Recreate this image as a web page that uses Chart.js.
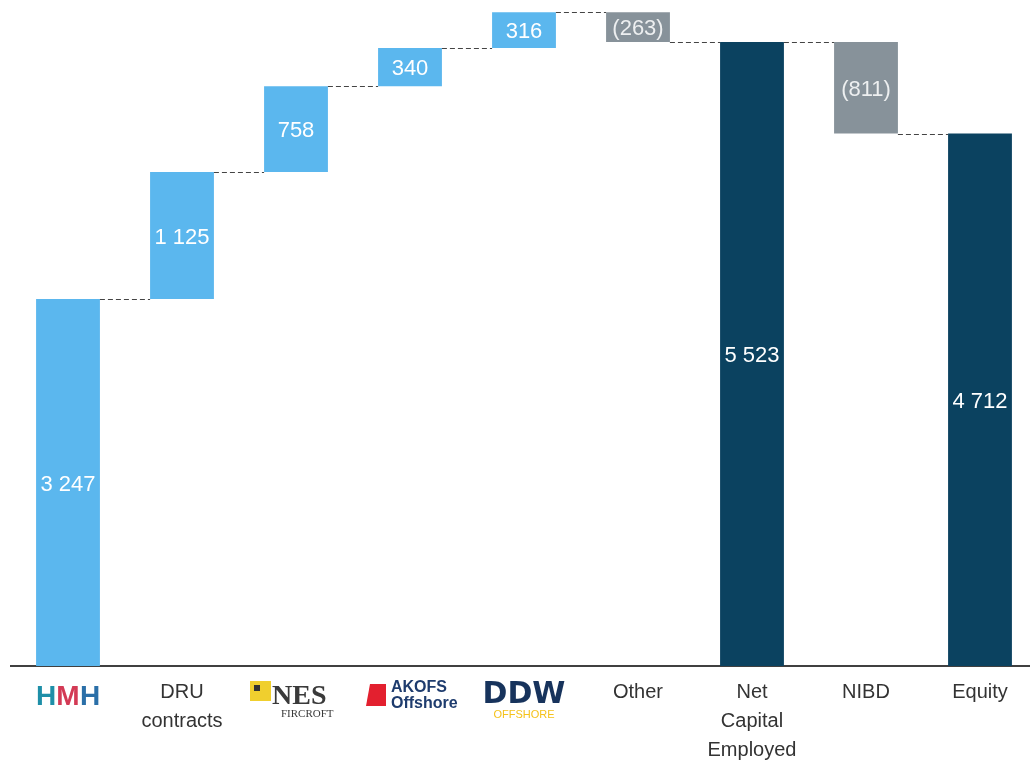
<!DOCTYPE html>
<html>
<head>
<meta charset="utf-8">
<script src="https://cdn.jsdelivr.net/npm/chart.js@4"></script>
<style>
  html, body { margin: 0; padding: 0; background: #fff; overflow: hidden; }
  #wrap { width: 1037px; height: 761px; }
</style>
</head>
<body>
<div id="wrap"><canvas id="bar"></canvas></div>
<script>
// data
const categories = ['HMH', ['DRU', 'contracts'], 'NES Fircroft', 'AKOFS Offshore', 'DDW Offshore', 'Other', ['Net', 'Capital', 'Employed'], 'NIBD', 'Equity'];
const changes = [3247, 1125, 758, 340, 316, -263, 5523, -811, 4712];
const kinds = ['start', 'up', 'up', 'up', 'up', 'down', 'total', 'down', 'total'];
const logoIdx = [0, 2, 3, 4];

const colors = { start: '#5BB7EE', up: '#5BB7EE', down: '#87929A', total: '#0B4260' };

// floating bars from running total
const ranges = [];
let run = 0;
changes.forEach((v, i) => {
  if (kinds[i] === 'total' || kinds[i] === 'start') { ranges.push([0, v]); run = v; }
  else { ranges.push([run, run + v]); run += v; }
});

const fmt = v => {
  const s = Math.abs(v).toString().replace(/\B(?=(\d{3})+(?!\d))/g, ' ');
  return v < 0 ? '(' + s + ')' : s;
};

// dashed connectors + value labels + logos
const extras = {
  id: 'extras',
  afterDatasetsDraw(chart) {
    const ctx = chart.ctx;
    const meta = chart.getDatasetMeta(0);
    const y = chart.scales.y;
    ctx.save();
    // connectors at the running total
    ctx.strokeStyle = '#444';
    ctx.lineWidth = 1;
    ctx.setLineDash([5, 3]);
    for (let i = 0; i < meta.data.length - 1; i++) {
      const a = meta.data[i], b = meta.data[i + 1];
      const lv = ranges[i][1];
      const py = Math.round(y.getPixelForValue(lv)) + 0.5;
      ctx.beginPath();
      ctx.moveTo(a.x + a.width / 2, py);
      ctx.lineTo(b.x - b.width / 2, py);
      ctx.stroke();
    }
    ctx.setLineDash([]);
    // value labels
    ctx.font = '22px "Liberation Sans", Arial, sans-serif';
    ctx.textAlign = 'center';
    ctx.textBaseline = 'middle';
    meta.data.forEach((bar, i) => {
      const mid = y.getPixelForValue((ranges[i][0] + ranges[i][1]) / 2);
      ctx.fillStyle = kinds[i] === 'down' ? '#EDEFF0' : '#FFFFFF';
      ctx.fillText(fmt(changes[i]), bar.x, mid + 2);
    });
    ctx.restore();
  },
  afterDraw(chart) {
    const ctx = chart.ctx;
    const x = chart.scales.x;
    const top = chart.chartArea.bottom;
    ctx.save();
    ctx.textBaseline = 'alphabetic';
    // HMH
    let cx = x.getPixelForValue(0);
    ctx.font = 'bold 28px "Liberation Sans", Arial, sans-serif';
    ctx.textAlign = 'center';
    ctx.fillStyle = '#1E8FA8';
    ctx.fillText('H', cx - 22, top + 39);
    ctx.fillStyle = '#D33A55';
    ctx.fillText('M', cx, top + 39);
    ctx.fillStyle = '#2A6FA8';
    ctx.fillText('H', cx + 22, top + 39);
    // NES Fircroft
    cx = x.getPixelForValue(2);
    ctx.fillStyle = '#F0CF2E';
    ctx.fillRect(cx - 46, top + 15, 21, 20);
    ctx.fillStyle = '#333';
    ctx.fillRect(cx - 42, top + 19, 6, 6);
    ctx.fillStyle = '#3A3A3A';
    ctx.font = 'bold 28px "Liberation Serif", "DejaVu Serif", serif';
    ctx.textAlign = 'left';
    ctx.fillText('NES', cx - 24, top + 38);
    ctx.font = '11px "Liberation Serif", serif';
    ctx.fillText('FIRCROFT', cx - 15, top + 51);
    // AKOFS Offshore
    cx = x.getPixelForValue(3);
    ctx.fillStyle = '#E3202F';
    ctx.beginPath();
    ctx.moveTo(cx - 44, top + 40); ctx.lineTo(cx - 40, top + 18); ctx.lineTo(cx - 24, top + 18); ctx.lineTo(cx - 24, top + 40);
    ctx.closePath(); ctx.fill();
    ctx.fillStyle = '#1E3C6E';
    ctx.font = 'bold 16px "Liberation Sans", Arial, sans-serif';
    ctx.fillText('AKOFS', cx - 19, top + 26);
    ctx.fillText('Offshore', cx - 19, top + 42);
    // DDW Offshore
    cx = x.getPixelForValue(4);
    ctx.textAlign = 'center';
    ctx.fillStyle = '#17335C';
    ctx.font = 'bold 30px "DejaVu Sans", sans-serif';
    ctx.fillText('DDW', cx, top + 37);
    ctx.fillStyle = '#F5C21A';
    ctx.font = '11px "Liberation Sans", Arial, sans-serif';
    ctx.fillText('OFFSHORE', cx, top + 52);
    ctx.restore();
  }
};

new Chart(document.getElementById('bar'), {
  type: 'bar',
  data: {
    labels: categories,
    datasets: [{
      data: ranges,
      backgroundColor: kinds.map(k => colors[k]),
      borderWidth: 0,
      barPercentage: 0.56,
      categoryPercentage: 1,
    }],
  },
  options: {
    animation: false,
    responsive: true,
    maintainAspectRatio: false,
    layout: { padding: { left: 11, right: 0, top: 0, bottom: 0 } },
    plugins: { legend: { display: false }, tooltip: { enabled: false } },
    scales: {
      x: {
        grid: { display: false },
        border: { display: true, color: '#404040', width: 2 },
        afterFit(s) { s.height = 95; },
        ticks: {
          padding: 4,
          color: '#333',
          maxRotation: 0,
          autoSkip: false,
          font: { size: 20, family: '"Liberation Sans", Arial, sans-serif', lineHeight: 1.45 },
          callback(v, i) { return logoIdx.includes(i) ? '' : categories[i]; },
        },
      },
      y: {
        display: false,
        min: 0,
        max: 5894,
      },
    },
  },
  plugins: [extras],
});
</script>
</body>
</html>
